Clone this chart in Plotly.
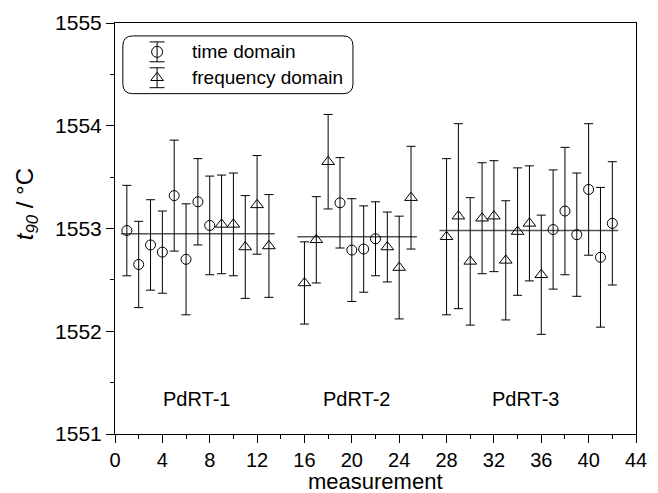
import plotly.graph_objects as go

# ---- data ----
td_x = [1, 2, 3, 4, 5, 6, 7, 8, 19, 20, 21, 22, 37, 38, 39, 40, 41, 42]
td_y = [1552.98, 1552.65, 1552.84, 1552.77, 1553.32, 1552.70, 1553.26, 1553.03,
        1553.25, 1552.79, 1552.80, 1552.90,
        1552.99, 1553.17, 1552.94, 1553.38, 1552.72, 1553.05]
td_err = [0.44, 0.42, 0.44, 0.40, 0.54, 0.54, 0.42, 0.48,
          0.44, 0.50, 0.42, 0.36,
          0.58, 0.62, 0.60, 0.64, 0.68, 0.60]

fd_x = [9, 10, 11, 12, 13, 16, 17, 18, 23, 24, 25, 28, 29, 30, 31, 32, 33, 34, 35, 36]
fd_y = [1553.04, 1553.04, 1552.82, 1553.23, 1552.83,
        1552.47, 1552.89, 1553.65, 1552.82, 1552.62, 1553.30,
        1552.92, 1553.12, 1552.68, 1553.10, 1553.12, 1552.69, 1552.97, 1553.05, 1552.55]
fd_err = [0.48, 0.50, 0.50, 0.48, 0.50,
          0.40, 0.42, 0.46, 0.34, 0.50, 0.50,
          0.76, 0.90, 0.62, 0.54, 0.54, 0.58, 0.62, 0.56, 0.58]

groups = ["PdRT-1", "PdRT-2", "PdRT-3"]
group_mean = [1552.95, 1552.92, 1552.98]
group_start = [0.5, 15.4, 27.4]
group_end = [13.5, 25.5, 42.5]
group_label_x = [6.85, 20.4, 34.7]
group_label_y = 1551.34

legend_names = ["time domain", "frequency domain"]

FONT = "Liberation Sans, Arial, sans-serif"

fig = go.Figure()

# mean lines
for m, s, e in zip(group_mean, group_start, group_end):
    fig.add_trace(go.Scatter(x=[s, e], y=[m, m], mode="lines",
                             line=dict(color="#555555", width=1.5),
                             showlegend=False, hoverinfo="skip"))

err_style = dict(type="data", visible=True, color="black", thickness=1, width=4.5)

fig.add_trace(go.Scatter(x=td_x, y=td_y, mode="markers", name=legend_names[0],
                         error_y=dict(array=td_err, **err_style),
                         marker=dict(symbol="circle-open", size=10, color="black",
                                     line=dict(width=1, color="black")),
                         showlegend=False))
fig.add_trace(go.Scatter(x=fd_x, y=fd_y, mode="markers", name=legend_names[1],
                         error_y=dict(array=fd_err, **err_style),
                         marker=dict(symbol="triangle-up-open", size=11, color="black",
                                     line=dict(width=1, color="black")),
                         showlegend=False))

# legend symbols on an overlay [0,1] axis pair
leg_sym_x = [0.0808, 0.0808]
leg_y = [0.9298, 0.8668]
leg_err = [0.0242, 0.0242]
for sym, lx, ly, le in zip(["circle-open", "triangle-up-open"], leg_sym_x, leg_y, leg_err):
    fig.add_trace(go.Scatter(x=[lx], y=[ly], mode="markers", xaxis="x2", yaxis="y2",
                             error_y=dict(type="data", array=[le], color="black",
                                          thickness=1, width=7.5),
                             marker=dict(symbol=sym, size=11, color="black",
                                         line=dict(width=1, color="black")),
                             showlegend=False, hoverinfo="skip"))

annotations = []
for name, ly in zip(legend_names, leg_y):
    annotations.append(dict(x=0.1447, y=ly, xref="x2", yref="y2", text=name,
                            showarrow=False, xanchor="left", yanchor="middle",
                            font=dict(family=FONT, size=19, color="black")))
for g, gx in zip(groups, group_label_x):
    annotations.append(dict(x=gx, y=group_label_y, xref="x", yref="y", text=g,
                            showarrow=False, xanchor="center", yanchor="middle",
                            font=dict(family=FONT, size=20, color="black")))
annotations.append(dict(x=-0.17, y=0.56, xref="paper", yref="paper",
                        text="<i>t</i><sub><i>90</i></sub> / °C",
                        textangle=-90, showarrow=False,
                        xanchor="center", yanchor="middle",
                        font=dict(family=FONT, size=24, color="black")))
annotations.append(dict(x=0.5, y=-0.116, xref="paper", yref="paper",
                        text="measurement", showarrow=False,
                        xanchor="center", yanchor="middle",
                        font=dict(family=FONT, size=22, color="black")))

# rounded legend box (paper coords)
x0, x1 = (123 - 115) / 532, (358 - 115) / 532
y1, y0 = 1 - (34 - 21) / 413, 1 - (92 - 21) / 413
rx, ry = 10 / 532, 10 / 413
path = (f"M {x0+rx},{y1} L {x1-rx},{y1} Q {x1},{y1} {x1},{y1-ry} "
        f"L {x1},{y0+ry} Q {x1},{y0} {x1-rx},{y0} L {x0+rx},{y0} "
        f"Q {x0},{y0} {x0},{y0+ry} L {x0},{y1-ry} Q {x0},{y1} {x0+rx},{y1} Z")

fig.update_layout(
    width=658, height=493,
    margin=dict(l=115, r=11, t=21, b=59),
    paper_bgcolor="white", plot_bgcolor="white",
    font=dict(family=FONT, size=20, color="black"),
    showlegend=False,
    annotations=annotations,
    shapes=[dict(type="path", path=path, xref="paper", yref="paper",
                 line=dict(color="black", width=1))],
    xaxis=dict(range=[0, 44], tickmode="linear", tick0=0, dtick=4,
               ticks="outside", ticklen=8, tickwidth=1, tickcolor="black",
               showline=True, linecolor="black", linewidth=1, mirror=True,
               showgrid=False, zeroline=False,
               minor=dict(dtick=2, ticks="outside", ticklen=4, tickcolor="black", showgrid=False),
               tickfont=dict(family=FONT, size=20)),
    yaxis=dict(range=[1551, 1555], tickmode="linear", tick0=1551, dtick=1,
               ticks="outside", ticklen=8, tickwidth=1, tickcolor="black",
               showline=True, linecolor="black", linewidth=1, mirror=True,
               showgrid=False, zeroline=False,
               minor=dict(dtick=0.5, ticks="outside", ticklen=4, tickcolor="black", showgrid=False),
               tickfont=dict(family=FONT, size=21), tickformat="d"),
    xaxis2=dict(range=[0, 1], overlaying="x", visible=False, fixedrange=True),
    yaxis2=dict(range=[0, 1], overlaying="y", visible=False, fixedrange=True),
)

fig.write_html("out.html", config={"displayModeBar": False},
               post_script="document.body.style.margin='0';document.body.style.overflow='hidden';")
